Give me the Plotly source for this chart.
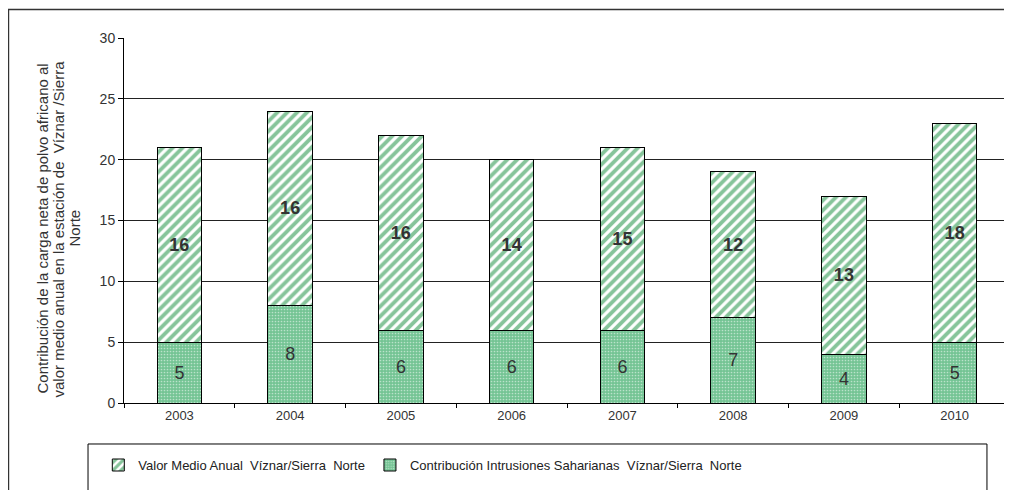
import plotly.graph_objects as go

# Datos
years = ["2003", "2004", "2005", "2006", "2007", "2008", "2009", "2010"]
intrusiones = [5, 8, 6, 6, 6, 7, 4, 5]
valor_medio = [16, 16, 16, 14, 15, 12, 13, 18]
y_ticks = [0, 5, 10, 15, 20, 25, 30]
y_title_lines = [
    "Contribución de la carga neta de polvo africano al",
    "valor medio anual en la estación de  Víznar /Sierra",
    "Norte",
]

green = "#0d8a36"
font_main = "Liberation Sans, Arial, sans-serif"

fig = go.Figure()

# Contribucion intrusiones saharianas (parte inferior, punteada)
fig.add_trace(go.Bar(
    x=years,
    y=intrusiones,
    name="Contribución Intrusiones Saharianas  Víznar/Sierra  Norte",
    marker=dict(
        color="#74c494",
        line=dict(color="black", width=1),
        pattern=dict(shape=".", fgcolor="white", bgcolor="#74c494", size=3, solidity=0.25),
    ),
    text=intrusiones,
    texttemplate="%{text}",
    textposition="inside",
    insidetextanchor="middle",
    textfont=dict(size=18, color="#333333", family=font_main),
))

# Valor medio anual (parte superior, rayada)
fig.add_trace(go.Bar(
    x=years,
    y=valor_medio,
    name="Valor Medio Anual  Víznar/Sierra  Norte",
    marker=dict(
        color="white",
        line=dict(color="black", width=1),
        pattern=dict(shape="/", fgcolor=green, bgcolor="white", size=7, solidity=0.55),
    ),
    text=valor_medio,
    texttemplate="<b>%{text}</b>",
    textposition="inside",
    insidetextanchor="middle",
    textfont=dict(size=18, color="#333333", family=font_main),
))

fig.update_layout(
    width=1004,
    height=482,
    barmode="stack",
    bargap=0.6,
    plot_bgcolor="white",
    paper_bgcolor="white",
    margin=dict(l=116, r=2, t=30, b=87),
    font=dict(family=font_main, size=13, color="#333333"),
    showlegend=True,
    legend=dict(
        orientation="h",
        traceorder="reversed",
        x=-0.029, xanchor="left",
        y=-0.17, yanchor="middle",
        font=dict(family=font_main, size=13, color="#222222"),
        itemwidth=30,
        bgcolor="rgba(0,0,0,0)",
    ),
    uniformtext=dict(minsize=12, mode="show"),
)

fig.update_yaxes(
    range=[0, 30],
    tickvals=y_ticks,
    showgrid=True,
    gridcolor="#222222",
    gridwidth=1,
    showline=True,
    linecolor="black",
    ticks="outside",
    ticklen=5,
    tickcolor="black",
    zeroline=False,
    tickfont=dict(size=14, color="#333333"),
)
fig.update_xaxes(
    showline=True,
    linecolor="black",
    ticks="outside",
    tickson="boundaries",
    ticklen=4,
    tickcolor="black",
    tickfont=dict(size=13, color="#333333"),
)

# Borde derecho del area de trazado
fig.add_shape(type="line", xref="paper", yref="paper", x0=1, x1=1, y0=0, y1=1,
              line=dict(color="#888888", width=1))

# Marco exterior del grafico
fig.add_shape(type="rect", xref="paper", yref="paper",
              x0=-0.1304, x1=1.02, y0=-0.26, y1=1.078,
              line=dict(color="#333333", width=1.5))

# Marco de la leyenda
fig.add_shape(type="rect", xref="paper", yref="paper",
              x0=-0.0406, x1=0.974, y0=-0.26, y1=-0.1123,
              line=dict(color="black", width=1))

# Titulo del eje Y, una linea por anotacion para controlar el interlineado
for line, xpos in zip(y_title_lines, [-0.0914, -0.0734, -0.0553]):
    fig.add_annotation(
        text=line,
        xref="paper", yref="paper",
        x=xpos, y=0.478,
        xanchor="center", yanchor="middle",
        textangle=-90,
        showarrow=False,
        font=dict(size=15, color="#333333", family=font_main),
    )

fig.write_html("out.html")
